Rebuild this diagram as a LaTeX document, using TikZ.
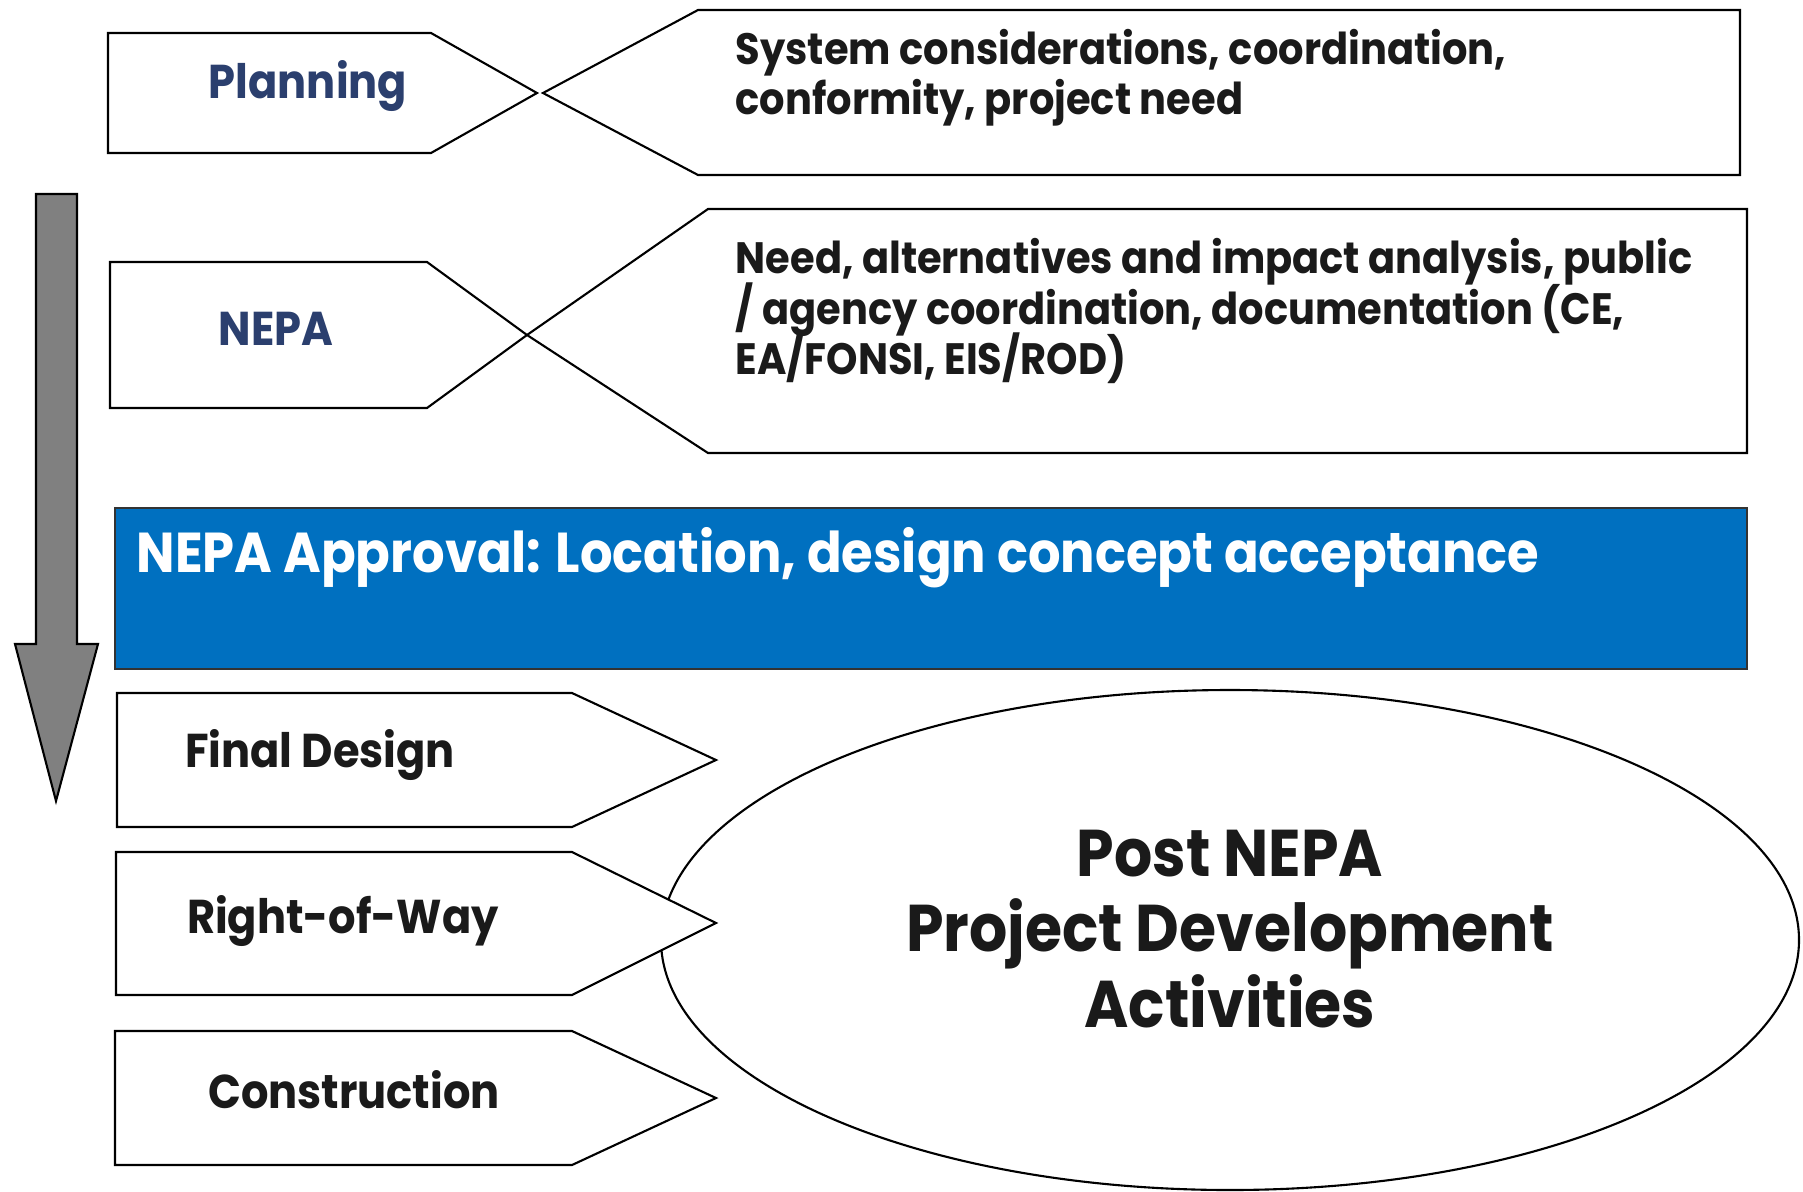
\documentclass[tikz,border=0pt]{standalone}
\usepackage{fontspec}
\setmainfont{Poppins}[FakeStretch=0.91]
\definecolor{navy}{HTML}{2B3F6E}
\definecolor{approvalblue}{HTML}{0070C0}
\definecolor{arrowgray}{HTML}{808080}
\definecolor{ink}{HTML}{1A1A1A}
\newcommand\fixedlines{\setlength{\lineskiplimit}{-100pt}}

\begin{document}
\begin{tikzpicture}[x=0.1mm, y=-0.1mm,
    stage/.style={draw=black, line width=0.6pt, fill=white},
    desctext/.style={anchor=west, align=left, inner sep=0pt, text=ink,
      font=\fontsize{12.5}{14.3}\selectfont\fixedlines\bfseries},
    stagetext/.style={inner sep=0pt, text=ink,
      font=\fontsize{13.5}{16}\selectfont\bfseries},
    phasetext/.style={stagetext, text=navy}]
    \useasboundingbox (0,0) rectangle (1803,1191);

    % Process arrow
    \draw[line width=0.6pt, fill=arrowgray] (36,194) -- (77,194) -- (77,644) -- (98,644)
        -- (56,801) -- (15,644) -- (36,644) -- cycle;

    % Planning
    \draw[stage] (108,33) -- (431,33) -- (537,93) -- (431,153) -- (108,153) -- cycle;
    \draw[stage] (1740,10) -- (698,10) -- (543,93) -- (698,175) -- (1740,175) -- cycle;
    \node[phasetext] (planning) at (308,86) {Planning};
    \node[desctext] (planningdesc) at (735,78)
        {System considerations, coordination,\\conformity, project need};

    % NEPA
    \draw[stage] (1747,209) -- (708,209) -- (527,335) -- (708,453) -- (1747,453) -- cycle;
    \draw[stage, fill=none] (110,262) -- (427,262) -- (527,335) -- (427,408) -- (110,408) -- cycle;
    \node[phasetext] (nepa) at (276,329) {NEPA};
    \node[desctext] (nepadesc) at (735,311)
        {Need, alternatives and impact analysis, public\\/ agency coordination, documentation (CE,\\EA/FONSI, EIS/ROD)};

    % NEPA approval
    \draw[line width=0.6pt, draw=black!80, fill=approvalblue] (115,508) rectangle (1747,669);
    \node[anchor=west, inner sep=0pt, text=white, font=\fontsize{16}{18}\selectfont\bfseries]
        (approval) at (136,558) {NEPA Approval: Location, design concept acceptance};

    % Post NEPA activities
    \draw[line width=0.6pt] (1230,940) ellipse [x radius=56.9mm, y radius=25mm];
    \node[align=center, inner sep=0pt, text=ink, font=\fontsize{18.8}{21.5}\selectfont\fixedlines\bfseries]
        (postnepa) at (1230,929) {Post NEPA\\Project Development\\Activities};

    % Post NEPA stages
    \draw[stage] (117,693) -- (572,693) -- (716,760) -- (572,827) -- (117,827) -- cycle;
    \node[stagetext] (finaldesign) at (320,755) {Final Design};

    \draw[stage] (116,852) -- (572,852) -- (716,923) -- (572,995) -- (116,995) -- cycle;
    \node[stagetext] (rightofway) at (343,921) {Right-of-Way};

    \draw[stage] (115,1031) -- (572,1031) -- (716,1098) -- (572,1165) -- (115,1165) -- cycle;
    \node[stagetext] (construction) at (354,1090) {Construction};

\end{tikzpicture}
\end{document}
